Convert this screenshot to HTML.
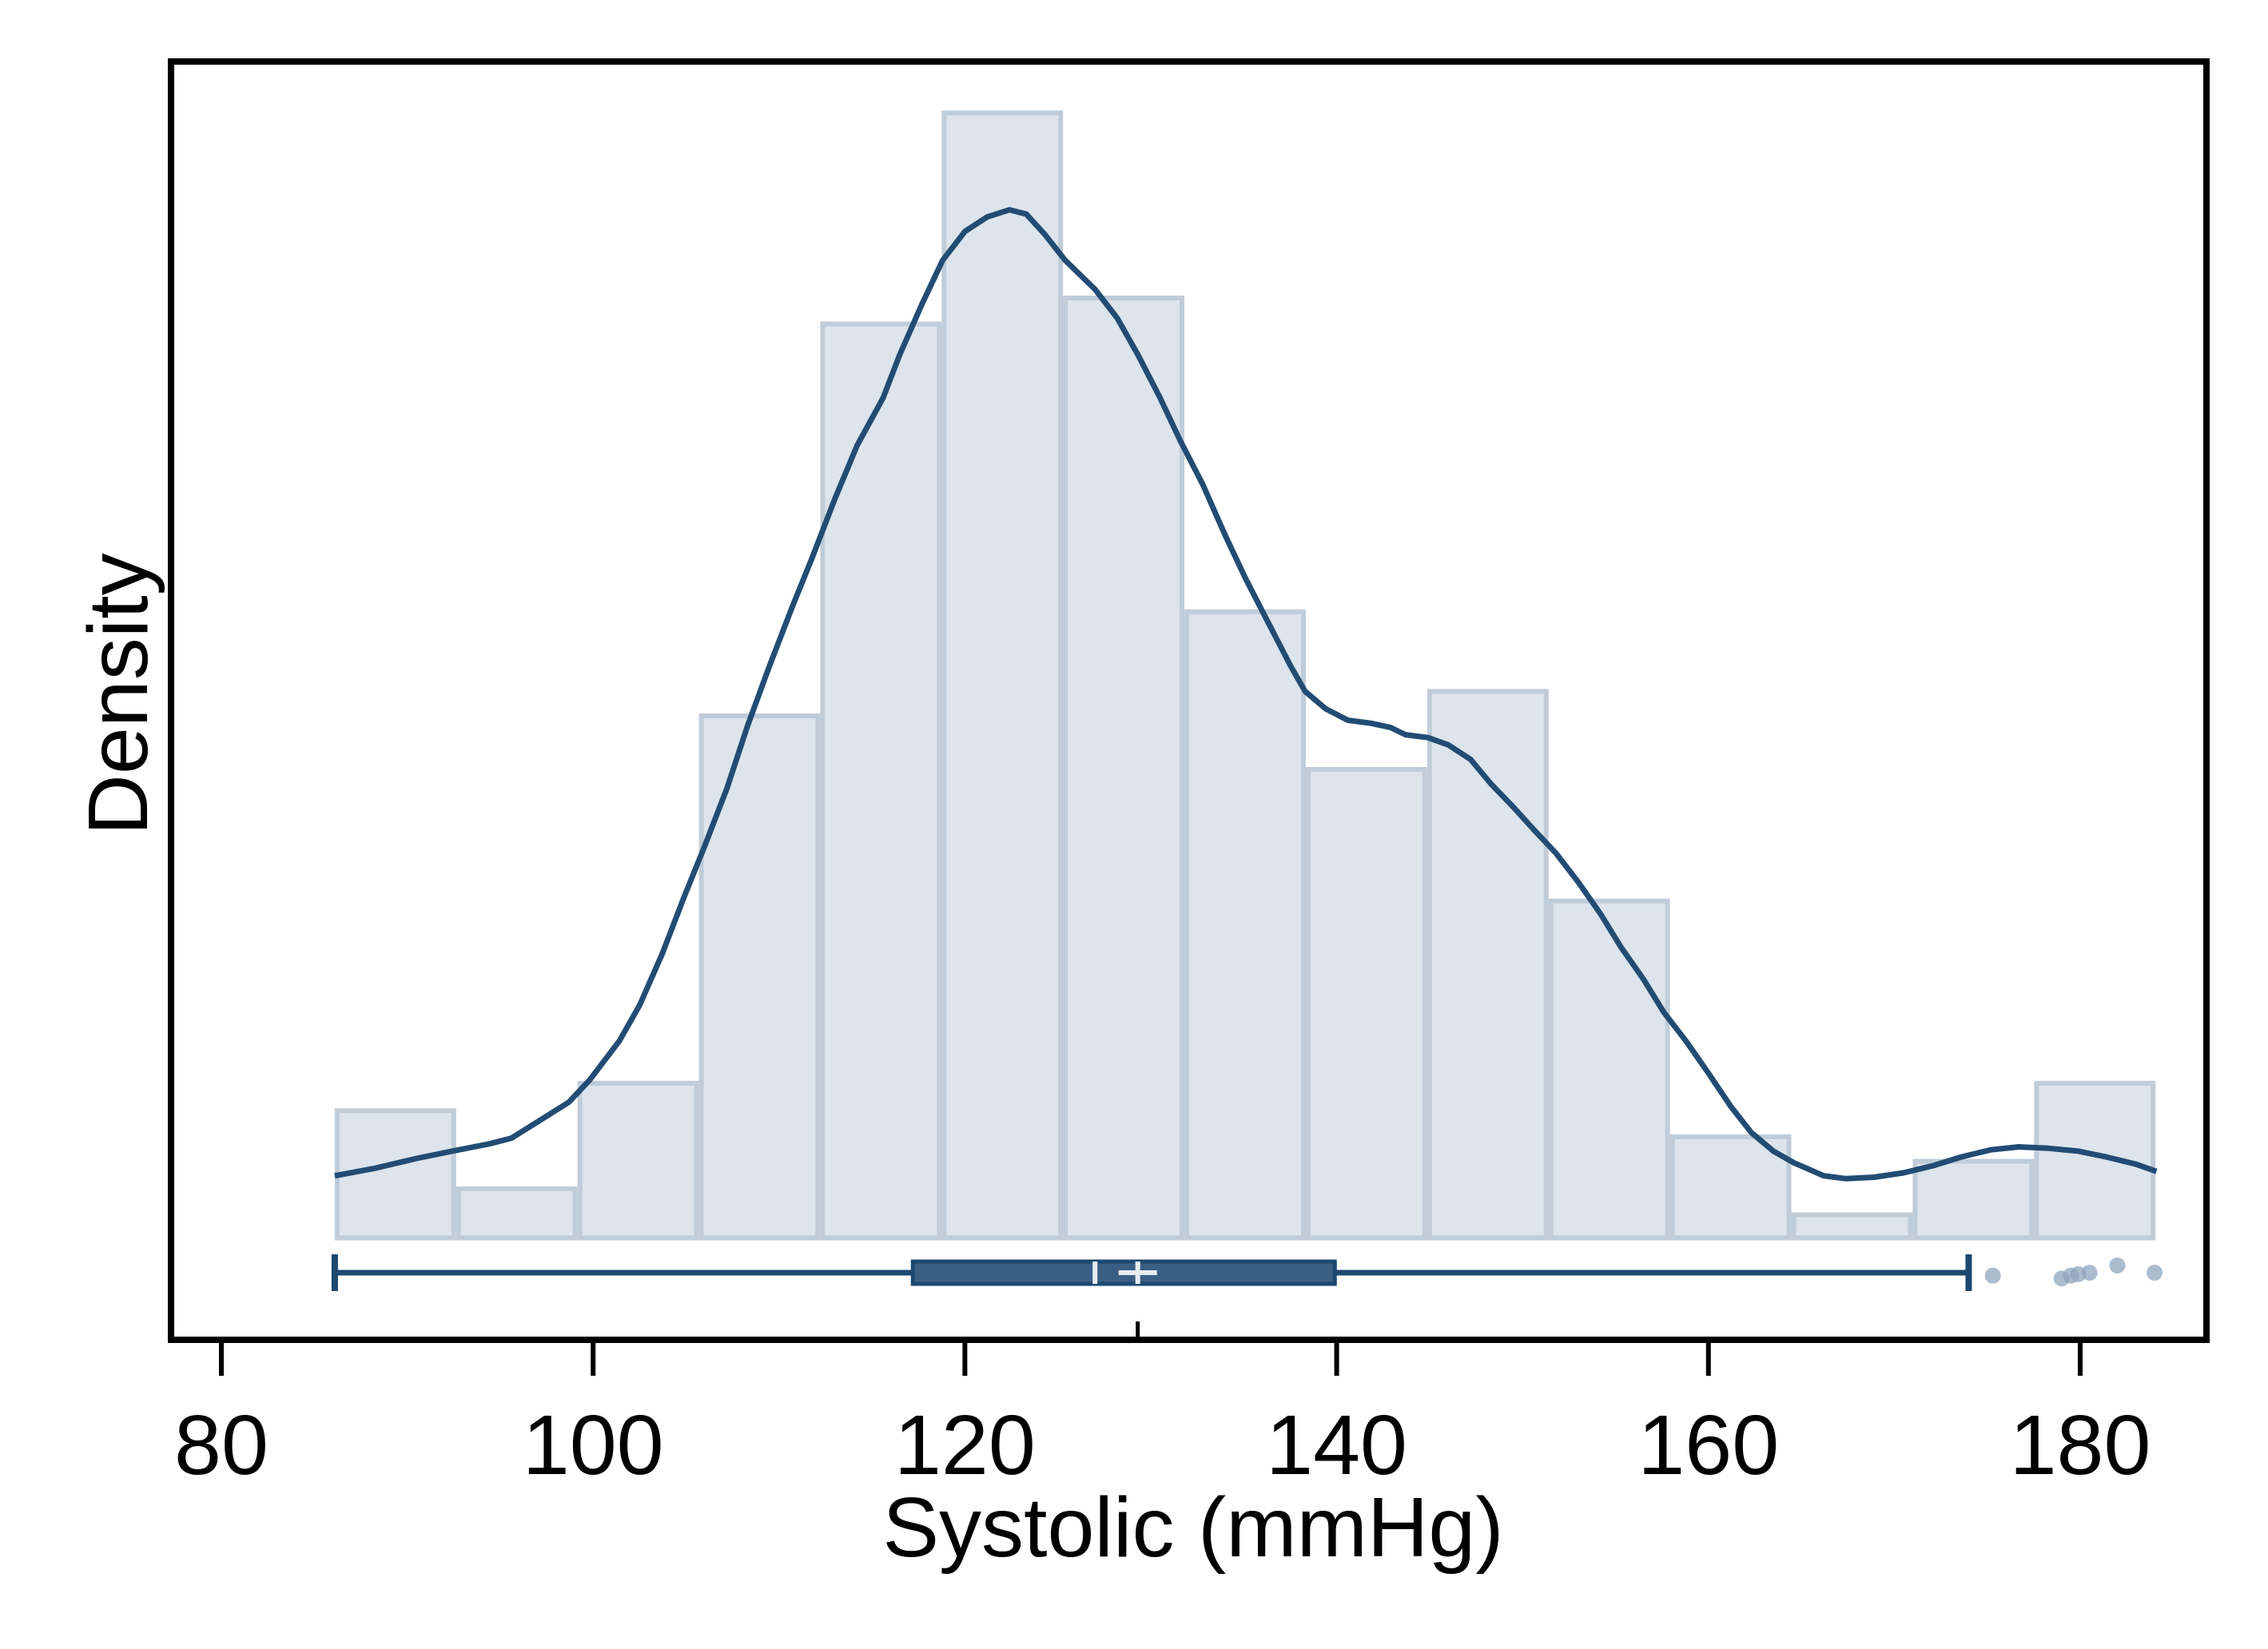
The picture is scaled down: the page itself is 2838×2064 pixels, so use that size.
<!DOCTYPE html>
<html><head><meta charset="utf-8"><style>html,body{margin:0;padding:0;background:#fff}svg{display:block}</style></head>
<body>
<svg id="chart" width="2838" height="2064" viewBox="0 0 2838 2064" xmlns="http://www.w3.org/2000/svg" font-family="Liberation Sans, Arial, sans-serif">
<rect width="2838" height="2064" fill="#fff"/>
<g id="bars"></g>
<g id="density"></g>
<g id="box"></g>
<rect x="214" y="77" width="2547" height="1600" fill="none" stroke="#000" stroke-width="8"/>
<g id="axis"></g>
<text x="1493" y="1948" font-size="106" text-anchor="middle" fill="#000">Systolic (mmHg)</text>
<text transform="translate(184,869) rotate(-90)" font-size="106" text-anchor="middle" fill="#000">Density</text>
</svg>
<script>
const binStart = 86.1;
const binWidth = 6.53;
const binHeights = [88, 34, 107, 361, 632, 778, 650, 433, 324, 378, 233, 70, 16, 53, 107];
const densityX = [86.1,88.2,90.5,92.4,94.4,95.6,97.1,98.7,99.8,101.4,102.5,103.7,104.9,106.0,107.2,108.3,109.5,110.7,111.8,113.0,114.2,115.6,116.5,117.7,118.8,120.0,121.2,122.4,123.3,124.3,125.4,127.0,128.2,129.3,130.5,131.6,132.8,134.0,135.1,136.3,137.5,138.3,139.4,140.6,141.8,142.9,143.7,144.9,146.0,147.2,148.3,149.5,150.7,151.8,153.0,154.2,155.3,156.5,157.6,158.8,160.0,161.2,162.3,163.5,164.6,166.2,167.4,168.9,170.5,172.1,173.6,175.2,176.7,178.3,179.9,181.4,183.0,184.1];
const densityY = [43,48,55,60,65,69,81,94,109,136,161,196,236,271,311,354,396,436,471,511,548,581,611,646,676,696,706,711,708,694,676,656,636,611,581,551,521,486,456,426,396,378,366,358,356,353,348,346,341,331,314,298,281,266,246,224,201,179,156,136,114,91,73,60,52,43,41,42,45,50,56,61,63,62,60,56,51,46];
const boxWhiskers = [86.1, 174.0];
const boxQuartiles = [117.2, 139.9];
const boxMedian = 127.0;
const boxMean = 129.3;
const outlierX = [175.3, 179.0, 179.5, 179.9, 180.5, 182.0, 184.0];
const outlierJitter = [2, 4, 2, 1, 0, -5, 0];
const xTicks = [80, 100, 120, 140, 160, 180];

const NS = 'http://www.w3.org/2000/svg';
function xs(v){ return 277 + (v - 80) * 23.26; }
function ys(v){ return 1549.5 - v * 1.81; }
function mk(tag, attrs, parent){ const e = document.createElementNS(NS, tag); for (const k in attrs) e.setAttribute(k, attrs[k]); parent.appendChild(e); return e; }

const gb = document.getElementById('bars');
binHeights.forEach((h, i) => {
  const x0 = xs(binStart + i * binWidth), x1 = xs(binStart + (i + 1) * binWidth);
  const r = mk('rect', {x: x0 + 3, y: ys(h), width: x1 - x0 - 6, height: ys(0) - ys(h), fill: '#dde4eb', stroke: '#c0ccd8', 'stroke-width': 6}, gb);
  
  
});

const gd = document.getElementById('density');
let d = densityX.map((x, i) => (i ? 'L' : 'M') + xs(x).toFixed(1) + ',' + ys(densityY[i]).toFixed(1)).join(' ');
const p = mk('path', {d: d, fill: 'none', stroke: '#224c74', 'stroke-width': 7, 'stroke-linejoin': 'round'}, gd);



const gx = document.getElementById('box');
const cy = 1593, col = '#1d4870';
const wl = mk('line', {x1: xs(boxWhiskers[0]), x2: xs(boxWhiskers[1]), y1: cy, y2: cy, stroke: col, 'stroke-width': 7}, gx);


boxWhiskers.forEach(w => {
  const c = mk('line', {x1: xs(w), x2: xs(w), y1: cy - 23, y2: cy + 23, stroke: col, 'stroke-width': 8}, gx);
  
  
});
const br = mk('rect', {x: xs(boxQuartiles[0]), y: cy - 14, width: xs(boxQuartiles[1]) - xs(boxQuartiles[0]), height: 28, fill: '#3a5f85', stroke: col, 'stroke-width': 5}, gx);


const md = mk('line', {x1: xs(boxMedian), x2: xs(boxMedian), y1: cy - 14, y2: cy + 14, stroke: '#e8edf2', 'stroke-width': 6}, gx);


const mh = mk('path', {d: `M${xs(boxMean)-24},${cy} h48 M${xs(boxMean)},${cy-14} v28`, stroke: '#e8edf2', 'stroke-width': 6, fill: 'none'}, gx);


outlierX.forEach((o, i) => {
  const c = mk('circle', {cx: xs(o), cy: cy + outlierJitter[i] * 1.81, r: 10, fill: '#8fa6be', 'fill-opacity': 0.75}, gx);
  
  
});

const ga = document.getElementById('axis');
xTicks.forEach(t => {
  const l = mk('line', {x1: xs(t), x2: xs(t), y1: 1678, y2: 1722, stroke: '#000', 'stroke-width': 6}, ga);
  
  
  const tx = mk('text', {x: xs(t), y: 1845, 'font-size': 106, 'text-anchor': 'middle', fill: '#000'}, ga);
  tx.textContent = t;
  
  
});
const mt = mk('line', {x1: xs(boxMean), x2: xs(boxMean), y1: 1654, y2: 1678, stroke: '#000', 'stroke-width': 5}, ga);


</script>
</body></html>
